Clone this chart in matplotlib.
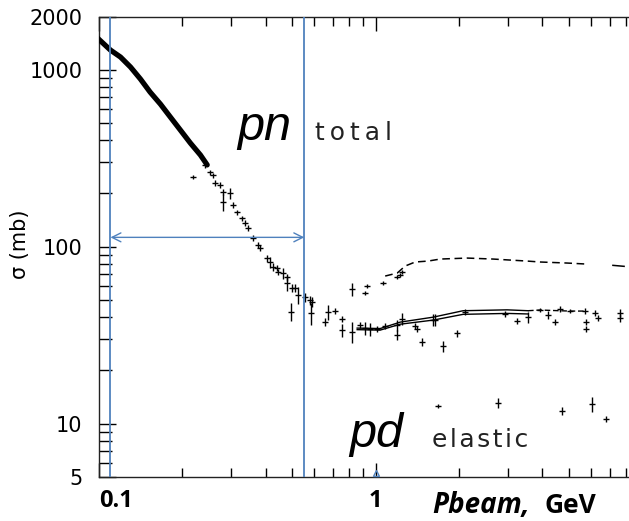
import numpy as np
import matplotlib
matplotlib.use('Agg')
import matplotlib.pyplot as plt
from matplotlib.ticker import LogLocator, NullFormatter

# pn total: dense band at low momentum
band_x = [0.0988, 0.110, 0.1196, 0.130, 0.1412, 0.153, 0.1667, 0.181, 0.1969, 0.214, 0.2325, 0.246]
band_y = [1510, 1292, 1180, 1036, 886, 748, 640, 541, 456, 385, 330, 290]

# pn total: scattered points below ~0.55 GeV
tail_x = [0.2194, 0.2424, 0.2527, 0.2590, 0.2633, 0.2746, 0.2815, 0.2815, 0.2984, 0.3059,
          0.3162, 0.3297, 0.3380, 0.3465, 0.3612, 0.3765, 0.3828, 0.4057, 0.4160, 0.4266,
          0.4409, 0.4446, 0.4634, 0.4793, 0.4793, 0.4995, 0.5121, 0.5250, 0.4954]
tail_y = [248, 290, 264, 254, 229, 223, 204, 179, 201, 172,
          157, 145, 136, 127.5, 112, 102, 98.3, 86.3, 82, 76.8,
          75.8, 72, 71, 67.4, 62.4, 58.5, 58.5, 53.4, 43.0]
tail_err = [8, 10, 8, 8, 8, 8, 7, 20, 14, 6,
            5, 5, 5, 5, 4, 4, 4, 4, 6, 4,
            3, 3, 5, 3, 6, 3, 3, 6, 5]

# lower group above 0.55 GeV
low_x = [0.5566, 0.5803, 0.5895, 0.5849, 0.6572, 0.6738, 0.7146, 0.7577, 0.7577, 0.8228,
         0.8786, 0.9164, 0.9565, 1.0125, 1.082, 1.196, 1.196, 1.247, 1.389, 1.414,
         1.472, 1.613, 1.640, 1.753, 1.969, 2.104, 2.935, 3.243, 3.553, 3.926,
         4.195, 4.446, 4.634, 5.038, 5.705, 5.753, 5.753, 6.200, 6.357, 7.63, 7.63]
low_y = [52.0, 50.0, 48.7, 42.0, 37.6, 42.8, 43.3, 39.0, 33.8, 33.0,
         36.1, 34.7, 34.3, 34.3, 35.6, 36.1, 31.7, 39.0, 35.6, 34.3,
         28.9, 38.5, 38.5, 27.5, 32.5, 42.8, 41.7, 38.0, 40.0, 43.9,
         41.1, 37.6, 44.5, 43.3, 43.3, 37.6, 34.3, 42.2, 39.6, 42.2, 39.6]
low_err = [3, 3, 3, 6, 2, 4, 1.5, 1.5, 3, 4.5,
           1.5, 3, 3, 1.5, 1.5, 2.5, 2, 3, 1.5, 1.5,
           1.5, 3, 3, 2, 1.5, 1.5, 1.5, 1.5, 3, 1,
           2, 1.5, 1.5, 1, 1.5, 1.5, 1.5, 1.5, 1.5, 2, 2]

# upper group points
up_x = [0.8228, 0.9164, 0.9315, 1.064, 1.196, 1.226, 1.247]
up_y = [57.7, 54.7, 60.0, 62.4, 67.4, 69.2, 72.0]
up_err = [5, 1.5, 1.5, 2, 1.5, 1.5, 1.5]

# upper dashed curve
dash_x = [1.082, 1.196, 1.278, 1.389, 1.547, 1.710, 2.140, 2.657, 3.523, 3.926, 4.912, 5.801]
dash_y = [68.3, 71.0, 77.8, 82.0, 83.0, 85.2, 86.3, 85.2, 83.0, 82.0, 80.9, 79.8]
dash2_x = [7.2, 7.9]
dash2_y = [78.5, 77.5]

# two solid curves in the lower group
line1_x = [0.857, 1.038, 1.226, 1.613, 2.07, 2.984, 3.553]
line1_y = [34.7, 34.5, 37.5, 40.0, 43.5, 44.0, 43.5]
line2_x = [0.857, 1.038, 1.226, 1.613, 2.07, 2.984, 3.553]
line2_y = [34.0, 33.8, 36.5, 38.5, 41.5, 42.0, 41.7]
line3_x = [3.553, 3.926, 4.6, 5.04, 5.7]
line3_y = [43.5, 43.9, 43.5, 43.3, 43.3]

# pd elastic points
pd_x = [1.681, 2.768, 4.713, 6.046, 6.795]
pd_y = [12.6, 13.1, 11.8, 12.9, 10.6]
pd_err = [0.3, 0.8, 0.6, 1.2, 0.4]

# blue marks
vline_x = [0.110, 0.552]
arrow_y = 113
blue = '#4f81bd'

fig = plt.figure(figsize=(6.29, 5.21), dpi=100)
ax = fig.add_axes([0.1574, 0.0845, 0.8426, 0.8838])
ax.set_xscale('log')
ax.set_yscale('log')
ax.set_xlim(0.1005, 8.23)
ax.set_ylim(5, 2000)

ax.plot(band_x, band_y, color='k', lw=3.8, solid_capstyle='round', zorder=3)

ek = dict(fmt='_', color='k', ms=4.5, mew=1.0, elinewidth=1.0, capsize=0, zorder=3)
ax.errorbar(tail_x, tail_y, yerr=tail_err, **ek)
ax.errorbar(low_x, low_y, yerr=low_err, **ek)
ax.errorbar(up_x, up_y, yerr=up_err, **ek)
ax.errorbar(pd_x, pd_y, yerr=pd_err, **ek)

ax.plot(dash_x, dash_y, color='k', lw=1.1, ls=(0, (5, 3)))
ax.plot(dash2_x, dash2_y, color='k', lw=1.1)
ax.plot(line1_x, line1_y, color='k', lw=1.0)
ax.plot(line2_x, line2_y, color='k', lw=1.0)
ax.plot(line3_x, line3_y, color='k', lw=1.0, ls=(0, (4, 2)))

for xv in vline_x:
    ax.axvline(xv, color=blue, lw=1.3, zorder=5)
ax.annotate('', xy=(vline_x[1], arrow_y), xytext=(vline_x[0], arrow_y),
            arrowprops=dict(arrowstyle='<->', color=blue, lw=1.0,
                            shrinkA=0, shrinkB=0, mutation_scale=16), zorder=5)
ax.plot([1.0], [5.25], marker='^', mfc='none', mec=blue, ms=5, mew=1, clip_on=False, zorder=6)

# ticks
ax.set_yticks([5, 10, 100, 1000, 2000])
ax.set_yticklabels(['5', '10', '100', '1000', '2000'])
ax.yaxis.set_minor_locator(LogLocator(base=10, subs=np.arange(2, 10)))
ax.yaxis.set_minor_formatter(NullFormatter())
ax.set_xticks([0.1, 1])
ax.set_xticklabels(['0.1', '1'])
ax.xaxis.set_minor_locator(LogLocator(base=10, subs=np.arange(2, 10)))
ax.xaxis.set_minor_formatter(NullFormatter())

ax.tick_params(axis='y', which='major', direction='in', length=12, width=1, pad=12,
               labelsize=15, left=True, right=False)
ax.tick_params(axis='y', which='minor', direction='in', length=9, width=1, right=False)
ax.tick_params(axis='x', which='major', direction='in', length=10, width=1, pad=9,
               top=True, labelsize=17)
ax.tick_params(axis='x', which='minor', direction='in', length=6.5, width=1, top=True)
for lab in ax.get_xticklabels():
    lab.set_fontfamily('Open Sans')
    lab.set_fontweight('bold')
ax.get_xticklabels()[0].set_ha('left')

for s in ['left', 'bottom', 'top']:
    ax.spines[s].set_linewidth(1.0)
    ax.spines[s].set_color('#222222')
ax.spines['right'].set_visible(False)

# labels
fig.text(20 / 629, 1 - 244 / 521, 'σ (mb)', rotation=90, fontsize=15,
         ha='center', va='center')
fig.text(432 / 629, 1 - 513 / 521, 'Pbeam,', fontsize=20, family='Open Sans',
         fontweight='bold', style='italic', ha='left', va='baseline')
fig.text(545 / 629, 1 - 513 / 521, 'GeV', fontsize=19, family='Open Sans',
         fontweight='bold', ha='left', va='baseline')

ts = '\u2009'
hs = '\u200a'
ax.text(0.316, 401, 'pn', fontsize=35, family='Liberation Sans', style='italic',
        va='baseline')
ax.text(0.605, 401, ts.join('total'), fontsize=18, color='#222222', va='baseline')
ax.text(0.802, 7.38, 'pd', fontsize=35, family='Liberation Sans', style='italic',
        va='baseline')
ax.text(1.60, 7.38, hs.join('elastic'), fontsize=18, color='#222222', va='baseline')

fig.savefig('out.png', dpi=100)
